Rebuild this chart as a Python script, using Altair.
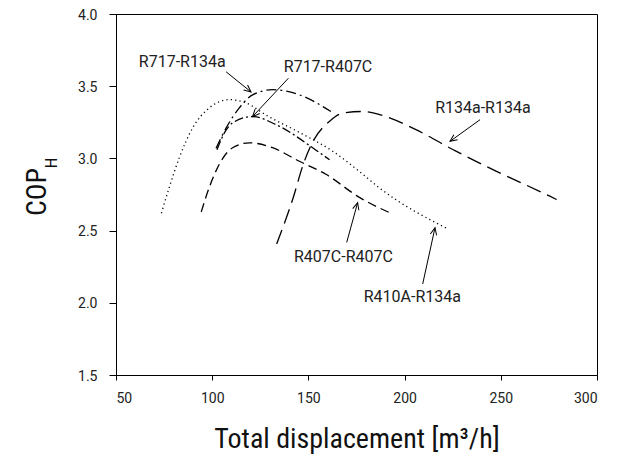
import math
import altair as alt
import pandas as pd

# ---- data ----
r410a_x = [73.6, 77.7, 82.9, 89.8, 98.5, 108.9, 117.6, 128.0, 145.3, 162.6, 176.5, 186.8, 222.7]
r410a_y = [2.62, 2.80, 3.005, 3.21, 3.35, 3.407, 3.384, 3.30, 3.18, 3.05, 2.91, 2.797, 2.51]

r407c_x = [94.3, 98.5, 103.7, 110.6, 119.3, 131.4, 145.3, 159.1, 176.5, 193.2]
r407c_y = [2.63, 2.80, 2.96, 3.074, 3.108, 3.074, 2.98, 2.89, 2.73, 2.618]

r717a_x = [102.0, 107.2, 114.1, 121.0, 131.4, 145.3, 161.7]
r717a_y = [3.07, 3.21, 3.35, 3.44, 3.476, 3.44, 3.325]

r717c_x = [102.5, 106.5, 110.6, 121.0, 133.2, 152.2, 161.0]
r717c_y = [3.06, 3.18, 3.246, 3.29, 3.234, 3.074, 2.99]

r134_x = [133.5, 142.1, 147.3, 152.4, 160.9, 167.8, 178.2, 190.3, 205.9, 226.7, 247.5, 275.2, 279.0]
r134_y = [2.407, 2.728, 2.958, 3.118, 3.256, 3.313, 3.325, 3.29, 3.199, 3.05, 2.912, 2.74, 2.715]

label_text = ["R717-R134a", "R717-R407C", "R134a-R134a", "R407C-R407C", "R410A-R134a"]
label_x = [84.4, 160.2, 240.7, 168.2, 204.0]
label_y = [3.67, 3.635, 3.348, 2.32, 2.04]
arrow_x1 = [107.2, 139.6, 239.2, 169.9, 209.4]
arrow_y1 = [3.60, 3.555, 3.268, 2.418, 2.13]
arrow_x2 = [120.2, 121.0, 223.6, 175.6, 215.8]
arrow_y2 = [3.46, 3.29, 3.118, 2.694, 2.52]

x_ticks = [50, 100, 150, 200, 250, 300]
y_ticks = [1.5, 2.0, 2.5, 3.0, 3.5, 4.0]

W, H = 481, 361
XD = [50, 300]
YD = [1.5, 4.0]
SX = W / (XD[1] - XD[0])
SY = H / (YD[1] - YD[0])

FONT = "Roboto"
TFONT = "Liberation Sans Narrow, Roboto Condensed, Arial Narrow, sans-serif"

xs = alt.Scale(domain=XD, nice=False, zero=False)
ys = alt.Scale(domain=YD, nice=False, zero=False)

xaxis = alt.Axis(values=x_ticks, format="d", title="Total displacement  [m³/h]",
                 titleFontSize=28, titleFont=TFONT, titleFontWeight="normal",
                 titlePadding=20, labelPadding=11, tickSize=5, titleColor="#111")
yaxis = alt.Axis(values=y_ticks, format=".1f", title=None, labelPadding=12, tickSize=7,
                 labelOffset=1)


def series(xv, yv, dash, width=1.3):
    df = pd.DataFrame({"x": xv, "y": yv})
    return alt.Chart(df).mark_line(color="black", strokeWidth=width, strokeDash=dash,
                                   interpolate="monotone").encode(
        x=alt.X("x:Q", scale=xs, axis=xaxis),
        y=alt.Y("y:Q", scale=ys, axis=yaxis),
    )


lines = [
    series(r410a_x, r410a_y, [1.2, 3.2]),
    series(r407c_x, r407c_y, [9, 5]),
    series(r717a_x, r717a_y, [10, 4, 2, 4]),
    series(r717c_x, r717c_y, [9, 3, 2, 3]),
    series(r134_x, r134_y, [15, 7]),
]

labels = pd.DataFrame({"t": label_text, "x": label_x, "y": label_y})
text = alt.Chart(labels).mark_text(font=FONT, fontSize=16, color="#222",
                                   align="center", baseline="middle").encode(
    x=alt.X("x:Q", scale=xs), y=alt.Y("y:Q", scale=ys), text="t:N")

ang = []
for a, b, c, d in zip(arrow_x1, arrow_y1, arrow_x2, arrow_y2):
    dx = (c - a) * SX
    dy = -(d - b) * SY  # screen y down
    ang.append(math.degrees(math.atan2(dx, -dy)) % 360)

arrows = pd.DataFrame({"x1": arrow_x1, "y1": arrow_y1, "x2": arrow_x2, "y2": arrow_y2, "ang": ang})
shafts = alt.Chart(arrows).mark_rule(color="black", strokeWidth=1).encode(
    x=alt.X("x1:Q", scale=xs), y=alt.Y("y1:Q", scale=ys), x2="x2:Q", y2="y2:Q")
heads = alt.Chart(arrows).mark_point(shape="M-0.45,1L0,0L0.45,1", filled=False,
                                     color="black", strokeWidth=1, size=200, opacity=1).encode(
    x=alt.X("x2:Q", scale=xs), y=alt.Y("y2:Q", scale=ys), angle=alt.Angle("ang:Q", scale=None))

ytitle = alt.Chart(pd.DataFrame({"t": ["COP"]})).mark_text(
    font=TFONT, fontSize=28, angle=270, color="#111", baseline="middle", align="center").encode(
    x=alt.value(-78), y=alt.value(178), text="t:N")
ysub = alt.Chart(pd.DataFrame({"t": ["H"]})).mark_text(
    font=TFONT, fontSize=17, angle=270, color="#111", baseline="middle", align="center").encode(
    x=alt.value(-64), y=alt.value(149), text="t:N")

chart = alt.layer(*lines, shafts, heads, text, ytitle, ysub).properties(
    width=W, height=H,
    autosize=alt.AutoSizeParams(type="none"),
    padding={"left": 108, "top": 6, "right": 16, "bottom": 81},
).configure_view(stroke="black", strokeWidth=1).configure_axis(
    grid=False, domainColor="black", tickColor="black", labelFont=FONT, labelFontSize=14,
    labelColor="#222", domainWidth=1, tickWidth=1
)

chart.save("out.html", embed_options={"renderer": "svg", "actions": False})
